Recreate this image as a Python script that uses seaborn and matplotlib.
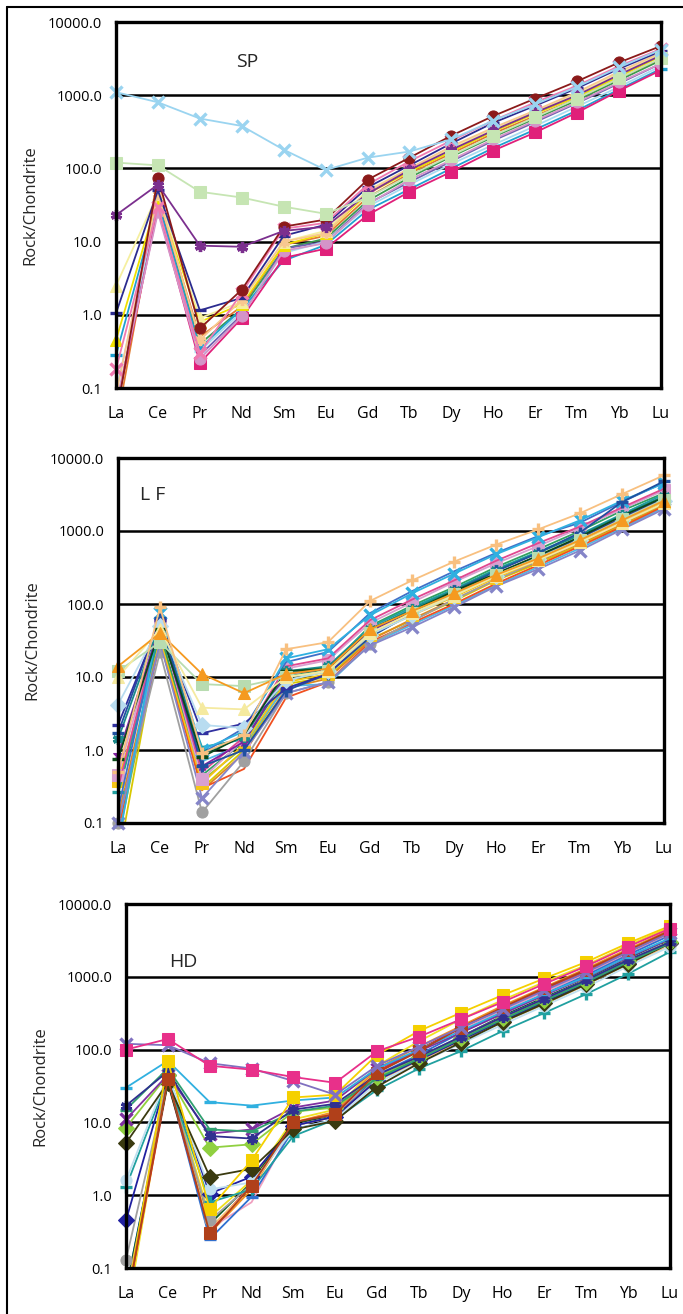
import numpy as np
import pandas as pd
import matplotlib
matplotlib.use("Agg")
import matplotlib.pyplot as plt
import seaborn as sns
from matplotlib.lines import Line2D

# REE elements on the x axis
elements = ['La', 'Ce', 'Pr', 'Nd', 'Sm', 'Eu', 'Gd', 'Tb', 'Dy', 'Ho', 'Er', 'Tm', 'Yb', 'Lu']
y_ticks = [0.1, 1, 10, 100, 1000, 10000]

# --- SP samples (rock / chondrite) ---
sp_values = [
    [0.03, 40, 0.5, 1.3, 9, 12, 40, 85, 160, 300, 520, 900, 1700, 3100],
    [0.05, 35, 0.4, 1.2, 8, 11, 36, 75, 145, 270, 480, 850, 1600, 3000],
    [0.05, 38, 0.28, 1.0, 8, 10, 33, 65, 125, 240, 430, 780, 1450, 2700],
    [0.09, 32, 0.32, 1.1, 7, 10, 30, 60, 115, 210, 380, 700, 1300, 2500],
    [0.28, 35, 0.35, 1.2, 5.5, 9, 27, 52, 100, 190, 340, 620, 1200, 2300],
    [0.05, 28, 0.22, 0.9, 6, 8, 23, 48, 90, 175, 310, 580, 1150, 2200],
    [0.06, 25, 0.25, 0.95, 7.5, 9.5, 32, 70, 130, 250, 450, 800, 1500, 2700],
    [0.45, 40, 0.8, 1.4, 9, 13, 45, 90, 170, 320, 560, 950, 1800, 3400],
    [2.5, 45, 0.9, 1.5, 10, 14, 50, 100, 190, 350, 600, 1050, 2000, 3700],
    [0.08, 45, 0.45, 1.6, 10, 13, 48, 100, 200, 360, 620, 1100, 2100, 3800],
    [1.05, 50, 1.15, 1.7, 12, 17, 55, 110, 220, 420, 720, 1250, 2300, 4000],
    [0.18, 30, 0.3, 2.0, 15, 18, 60, 125, 240, 450, 800, 1350, 2500, 4300],
    [0.04, 75, 0.65, 2.2, 16, 20, 70, 140, 280, 520, 900, 1550, 2800, 4700],
    [23, 60, 8.8, 8.5, 14, 16, 45, 95, 180, 330, 580, 1000, 1900, 3500],
    [120, 110, 48, 40, 30, 24, 40, 80, 150, 280, 500, 900, 1700, 3200],
    [1100, 800, 480, 380, 180, 95, 140, 170, 250, 450, 750, 1300, 2400, 4200],
]
sp_colors = ['#e07b30', '#3a9a50', '#7060b0', '#a8dcf0', '#1fa0d0', '#e0207a', '#d494c8',
             '#f0e000', '#f5efa0', '#f8c890', '#2b2b8f', '#f07ab0', '#8b1a1a', '#7b2f8e',
             '#c6e5b3', '#9ad4f0']
sp_markers = ['', '', '', '_', '_', 's', 'o', '^', '^', (6, 2, 0), '_', 'x', 'o', (6, 2, 0),
              's', 'x']

# --- LF samples ---
lf_values = [
    [0.03, 40, 0.3, 1.0, 8, 10, 33, 60, 110, 210, 360, 650, 1200, 2300],
    [0.06, 35, 0.38, 1.1, 9, 12, 40, 72, 130, 240, 420, 760, 1450, 2700],
    [0.12, 38, 0.28, 0.9, 7, 9.5, 32, 62, 115, 215, 380, 680, 1250, 2400],
    [0.07, 50, 0.7, 1.2, 7.5, 8, 28, 52, 95, 180, 320, 580, 1100, 2100],
    [0.08, 30, 0.3, 0.55, 5.2, 8.5, 30, 55, 100, 190, 340, 620, 1150, 2200],
    [0.1, 22, 0.14, 0.7, 6, 8.5, 28, 58, 115, 215, 390, 700, 1300, 2400],
    [0.1, 30, 0.22, 0.95, 6, 8.5, 27, 48, 90, 175, 300, 540, 1050, 2000],
    [0.38, 35, 0.35, 1.2, 8.5, 11, 38, 70, 125, 230, 400, 700, 1400, 2500],
    [0.25, 40, 0.45, 1.3, 10, 13, 50, 95, 170, 320, 560, 1000, 1900, 3300],
    [0.27, 42, 1.1, 1.4, 11, 14, 48, 90, 160, 300, 520, 900, 1700, 3200],
    [0.45, 55, 0.4, 1.4, 13, 17, 55, 105, 200, 360, 620, 1100, 2000, 3600],
    [0.3, 55, 0.5, 1.5, 14, 18, 60, 115, 210, 390, 680, 1150, 2100, 3800],
    [0.15, 60, 0.9, 2.0, 16, 22, 75, 150, 280, 500, 850, 1300, 2500, 4600],
    [0.05, 75, 1.0, 1.8, 18, 24, 70, 140, 260, 480, 820, 1400, 2600, 4500],
    [0.85, 50, 0.6, 1.3, 11, 13, 42, 78, 140, 260, 450, 800, 1500, 2800],
    [1.4, 55, 0.9, 1.5, 12, 14, 45, 85, 155, 290, 500, 880, 1650, 3000],
    [1.7, 65, 0.6, 1.0, 6.5, 11, 35, 75, 150, 280, 500, 950, 2500, 4800],
    [2.2, 60, 1.7, 2.3, 7, 11, 40, 72, 135, 250, 440, 780, 1500, 2800],
    [4.2, 50, 2.2, 2.0, 9, 12, 38, 70, 130, 240, 420, 750, 1400, 2600],
    [0.75, 45, 0.8, 1.6, 12, 13, 45, 80, 150, 260, 460, 830, 1600, 2900],
    [12, 30, 8, 7.5, 10, 12, 40, 75, 135, 250, 430, 760, 1450, 2700],
    [10, 45, 3.8, 3.6, 10, 12, 40, 75, 130, 240, 400, 700, 1300, 2400],
    [14, 40, 11, 6, 11, 13, 45, 80, 140, 250, 420, 750, 1400, 2600],
    [0.5, 90, 0.9, 1.6, 24, 30, 110, 210, 380, 650, 1050, 1750, 3200, 5800],
]
lf_colors = ['#d8c800', '#90c040', '#e08a20', '#50b8e8', '#f05020', '#a0a0a0', '#8585c8',
             '#f5c518', '#30a060', '#20a0a0', '#d8a0d0', '#e04890', '#4070c8', '#30b0e0',
             '#8020a0', '#1a8a8a', '#2050a0', '#3030a0', '#b8dcf0', '#0a4a1a', '#b8dcb0',
             '#f5eaa0', '#f59a20', '#f8c080']
lf_markers = ['', '', '', '', '', 'o', 'x', 's', '', '_', 's', '', '', 'x', '*', (6, 2, 0),
              '+', '_', 'D', '_', 's', '^', '^', '+']

# --- HD samples ---
hd_values = [
    [0.02, 45, 0.5, 1.6, 11, 15, 60, 130, 260, 480, 850, 1450, 2700, 4800],
    [0.03, 38, 0.3, 1.2, 10, 14, 55, 110, 210, 400, 720, 1300, 2400, 4400],
    [0.04, 38, 0.35, 0.8, 9, 12, 50, 100, 190, 350, 620, 1100, 2100, 3900],
    [0.05, 38, 0.25, 0.95, 8, 11, 45, 85, 170, 320, 580, 1050, 2000, 3700],
    [0.03, 35, 0.32, 1.4, 10, 13, 50, 100, 200, 370, 680, 1200, 2200, 4100],
    [0.05, 35, 0.4, 1.5, 10, 12, 40, 75, 150, 290, 520, 920, 1800, 3300],
    [0.04, 40, 0.35, 1.3, 9, 12, 37, 70, 130, 240, 420, 780, 1500, 2700],
    [0.13, 40, 0.45, 1.4, 9, 12, 40, 80, 150, 280, 500, 900, 1700, 3100],
    [0.45, 45, 1.05, 1.8, 9, 12, 38, 72, 135, 250, 450, 820, 1550, 2900],
    [1.3, 40, 0.8, 1.2, 6.5, 11, 28, 55, 95, 180, 320, 580, 1100, 2200],
    [1.6, 45, 1.2, 1.5, 8, 11, 35, 65, 120, 220, 400, 720, 1400, 2600],
    [5.2, 35, 1.8, 2.3, 8, 10.5, 31, 65, 125, 240, 430, 790, 1500, 2900],
    [8.5, 45, 4.5, 5, 14, 16, 42, 78, 145, 270, 480, 860, 1650, 3000],
    [11, 45, 7, 8, 16, 20, 55, 95, 170, 310, 560, 980, 1850, 3300],
    [15, 55, 8, 7.5, 14, 17, 40, 75, 140, 260, 470, 850, 1600, 2900],
    [17, 50, 6.5, 6, 15, 18, 45, 80, 150, 280, 500, 900, 1700, 3000],
    [30, 70, 19, 17, 20, 22, 55, 100, 180, 330, 580, 1000, 1900, 3400],
    [0.03, 70, 0.65, 3.0, 22, 24, 85, 180, 320, 560, 950, 1600, 2900, 5000],
    [0.03, 40, 0.3, 1.35, 10, 13, 48, 95, 200, 380, 700, 1250, 2300, 4300],
    [120, 115, 65, 55, 37, 24, 60, 110, 200, 360, 650, 1150, 2200, 4000],
    [100, 140, 60, 53, 42, 35, 95, 150, 260, 450, 800, 1400, 2600, 4600],
]
hd_colors = ['#f0e020', '#f09020', '#f0a0c0', '#3070d0', '#d03030', '#0a5a2a', '#f8c070',
             '#a0a0a0', '#2020a0', '#20a0a0', '#c0e0f0', '#3a3a10', '#90d040', '#8030a0',
             '#30a070', '#303090', '#30b0e0', '#f5d000', '#b0401a', '#8070c0', '#e8308a']
hd_markers = ['', '', '', '_', '', '', '', 'o', 'D', '+', 'o', 'D', 'D', 'x', '_', (6, 2, 0),
              '_', 's', 's', 'x', 's']

panels = [
    ('SP', sp_values, sp_colors, sp_markers, [116, 22, 661, 388], (0.22, 0.89)),
    ('L F', lf_values, lf_colors, lf_markers, [118, 458, 664, 823], (0.04, 0.9)),
    ('HD', hd_values, hd_colors, hd_markers, [126, 904, 670, 1268], (0.08, 0.84)),
]

sns.set_theme(style='white')
plt.rcParams['font.family'] = ['Open Sans', 'DejaVu Sans']

W, H = 683, 1314
fig = plt.figure(figsize=(W / 100, H / 100), dpi=100)

pos = np.arange(len(elements))
for name, values, colors, markers, box, label_xy in panels:
    x0, y0, x1, y1 = box
    ax = fig.add_axes([x0 / W, 1 - y1 / H, (x1 - x0) / W, (y1 - y0) / H])
    for vals, c, m in zip(values, colors, markers):
        df = pd.DataFrame({'pos': pos, 'value': vals})
        kw = dict(marker=m, markersize=8, markeredgecolor=c, markerfacecolor=c)
        if m in ('_', '+', 'x') or isinstance(m, tuple):
            kw['markeredgewidth'] = 2.4
        sns.lineplot(data=df, x='pos', y='value', ax=ax, color=c, lw=1.3,
                     sort=False, estimator=None, legend=False, **kw)
        # let markers on the frame show fully when the series stays on scale
        if min(vals) >= 0.1:
            ax.lines[-1].set_clip_on(False)
    ax.set_yscale('log')
    ax.set_ylim(0.1, 10000)
    ax.set_xlim(0, len(elements) - 1)
    ax.set_yticks(y_ticks)
    ax.set_yticklabels([f'{t:.1f}' for t in y_ticks], fontsize=10.5)
    ax.minorticks_off()
    ax.set_xticks(pos)
    ax.set_xticklabels(elements, fontsize=11.5)
    ax.yaxis.grid(True, color='black', lw=1.8)
    ax.set_axisbelow(True)
    for s in ax.spines.values():
        s.set_color('black')
        s.set_linewidth(2.4)
    ax.tick_params(axis='x', direction='inout', length=10, width=2, pad=8, colors='black')
    ax.tick_params(axis='y', direction='inout', length=8, width=2, pad=6, colors='black')
    ax.set_xlabel('')
    ax.set_ylabel('Rock/Chondrite', fontsize=12, labelpad=7)
    ax.text(label_xy[0], label_xy[1], name, transform=ax.transAxes, fontsize=14,
            ha='left', va='center')

# outer frame (left and top edges)
fig.add_artist(Line2D([7 / W, 7 / W], [0, 1 - 7 / H], color='black', lw=1.5))
fig.add_artist(Line2D([7 / W, 1], [1 - 7 / H, 1 - 7 / H], color='black', lw=1.5))

fig.savefig('out.png', dpi=100)
